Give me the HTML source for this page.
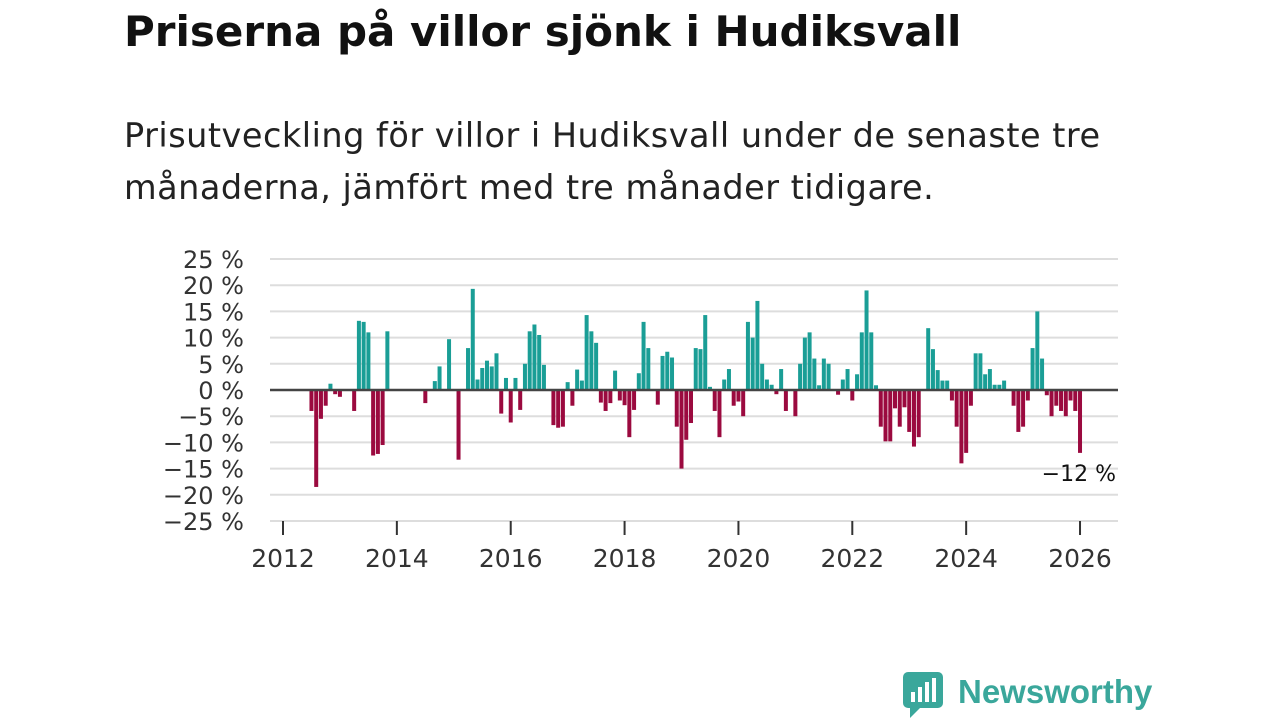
<!DOCTYPE html>
<html><head><meta charset="utf-8"><style>
body{margin:0;width:1280px;height:720px;background:#fff;font-family:"DejaVu Sans",sans-serif;overflow:hidden;position:relative}
#title{position:absolute;left:124px;top:7px;font-size:42px;font-weight:bold;color:#111;margin:0;white-space:nowrap}
#sub{position:absolute;left:124px;top:110px;font-size:33.5px;line-height:52px;color:#222;width:1040px;letter-spacing:0.5px}
#logo{position:absolute;left:902px;top:670px}
</style></head><body>
<h1 id="title">Priserna på villor sjönk i Hudiksvall</h1>
<div id="sub">Prisutveckling för villor i Hudiksvall under de senaste tre<br>månaderna, jämfört med tre månader tidigare.</div>
<svg id="chart" width="1280" height="720" style="position:absolute;left:0;top:0"></svg>
<div id="logo">
<svg width="260" height="50"><rect x="1" y="2" width="40" height="36" rx="5" fill="#3aa79b"/><path d="M8 38 L8 48 L18 38Z" fill="#3aa79b"/>
<rect x="9" y="22" width="4" height="10" fill="#fff"/><rect x="16" y="17" width="4" height="15" fill="#fff"/><rect x="23" y="12" width="4" height="20" fill="#fff"/><rect x="30" y="8" width="4" height="24" fill="#fff"/>
<text x="56" y="33" font-size="33" font-weight="bold" fill="#3aa79b" font-family="Liberation Sans, sans-serif">Newsworthy</text></svg></div>
<script>
const startMonth = 6; // months since Jan 2012
const values = [-4,-18.5,-5.5,-3,1.2,-0.8,-1.3,0,0,-4,13.2,13,11,-12.5,-12.2,-10.5,11.2,0,0,0,0,0,0,0,-2.5,0,1.7,4.5,0,9.7,0,-13.3,0,8,19.3,2,4.2,5.6,4.5,7,-4.5,2.3,-6.2,2.3,-3.8,5,11.2,12.5,10.5,4.8,0,-6.7,-7.2,-7,1.5,-3,3.9,1.8,14.3,11.2,9,-2.4,-4,-2.5,3.7,-2,-2.9,-9,-3.8,3.2,13,8,0,-2.8,6.5,7.3,6.2,-7,-15,-9.5,-6.3,8,7.8,14.3,0.6,-4,-9,2,4,-3,-2.2,-5,13,10,17,5,2,1,-0.8,4,-4,0,-5,5,10,11,6,0.9,6,5,0,-0.9,2,4,-2,3,11,19,11,0.9,-7,-9.8,-9.8,-3.5,-7,-3.3,-8,-10.8,-9,0,11.8,7.8,3.8,1.8,1.8,-2,-7,-14,-12,-3,7,7,3,4,1,1,1.8,0,-3,-8,-7,-2,8,15,6,-1,-5,-3,-4,-5,-2,-4,-12];
const yTicks = [25,20,15,10,5,0,-5,-10,-15,-20,-25];
const xTicks = [2012,2014,2016,2018,2020,2022,2024,2026];
const lastLabel = "−12 %";
const NS="http://www.w3.org/2000/svg", svg=document.getElementById('chart');
const x = yr => 283 + (yr-2012)*56.93;
const xm = m => x(2012 + m/12);
const y = v => 390 - v*5.24;
function mk(t,a,p){const e=document.createElementNS(NS,t);for(const k in a)e.setAttribute(k,a[k]);(p||svg).appendChild(e);return e;}
yTicks.forEach(v=>{
  if(v!==0){const g=mk('line',{x1:270,x2:1118,y1:y(v),y2:y(v),stroke:'#ddd','stroke-width':2});
  
  }
  const t=mk('text',{x:244,y:y(v)+9,'text-anchor':'end','font-size':24,fill:'#333','font-family':'DejaVu Sans, sans-serif'});
  
  
  t.textContent=(v<0?'−'+(-v):v)+' %';
});
values.forEach((v,i)=>{
  if(v===0)return;
  const cx=xm(startMonth+i);
  const r=mk('rect',{x:cx-2,width:4,y:Math.min(y(v),y(0)),height:Math.abs(y(v)-y(0)),fill:v>0?'#1a9e96':'#9b0a3f'});
  
  
});
const z=mk('line',{x1:270,x2:1118,y1:y(0),y2:y(0),stroke:'#444','stroke-width':2.5});


xTicks.forEach(yr=>{
  const l=mk('line',{x1:x(yr),x2:x(yr),y1:521,y2:535,stroke:'#333','stroke-width':2});
  
  
  const t=mk('text',{x:x(yr),y:567,'text-anchor':'middle','font-size':25,fill:'#333','font-family':'DejaVu Sans, sans-serif'});
  
  
  t.textContent=yr;
});
const lv=values[values.length-1];
const lt=mk('text',{x:1116,y:y(lv)+28,'text-anchor':'end','font-size':22,fill:'#111','font-family':'DejaVu Sans, sans-serif'});


lt.textContent=lastLabel;
</script>
</body></html>
